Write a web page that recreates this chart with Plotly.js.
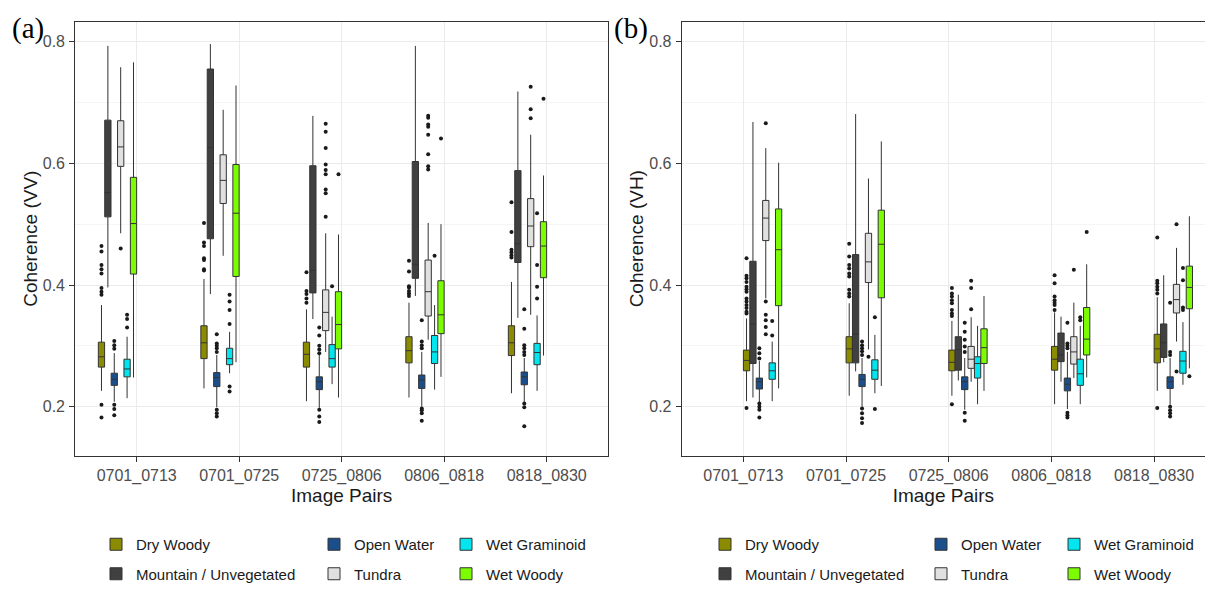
<!DOCTYPE html>
<html><head><meta charset="utf-8">
<script src="https://cdn.plot.ly/plotly-3.0.1.min.js"></script>
<style>html,body{margin:0;padding:0;background:#fff}#chart{width:1205px;height:590px}</style>
</head><body><div id="chart"></div>
<script>
const pairs = ['0701_0713','0701_0725','0725_0806','0806_0818','0818_0830'];
const classes = ['Dry Woody','Mountain / Unvegetated','Open Water','Tundra','Wet Graminoid','Wet Woody'];
const classColors = ['#8B8B00','#404040','#1A4F8B','#E0E0E0','#00E5EE','#7CFC00'];

// ---- Panel (a): Coherence (VV) ----
const vvQ1 = [
  [0.265,0.279,0.265,0.272,0.284],
  [0.512,0.476,0.387,0.411,0.437],
  [0.235,0.233,0.228,0.230,0.236],
  [0.595,0.534,0.325,0.349,0.463],
  [0.249,0.269,0.265,0.271,0.269],
  [0.418,0.414,0.295,0.320,0.412]];
const vvMed = [
  [0.282,0.305,0.286,0.292,0.305],
  [0.552,0.626,0.424,0.434,0.468],
  [0.245,0.248,0.241,0.244,0.249],
  [0.627,0.572,0.355,0.389,0.497],
  [0.262,0.279,0.279,0.290,0.289],
  [0.501,0.518,0.335,0.351,0.464]];
const vvQ3 = [
  [0.306,0.333,0.306,0.315,0.333],
  [0.671,0.755,0.596,0.603,0.588],
  [0.255,0.256,0.249,0.252,0.257],
  [0.670,0.614,0.392,0.441,0.542],
  [0.278,0.296,0.302,0.317,0.304],
  [0.577,0.598,0.389,0.407,0.504]];
const vvLo = [
  [0.226,0.230,0.209,0.215,0.222],
  [0.396,0.385,0.344,0.382,0.346],
  [0.208,0.199,0.198,0.200,0.208],
  [0.485,0.448,0.290,0.310,0.351],
  [0.214,0.255,0.237,0.228,0.226],
  [0.248,0.273,0.215,0.249,0.284]];
const vvHi = [
  [0.367,0.410,0.360,0.371,0.405],
  [0.793,0.796,0.678,0.793,0.718],
  [0.288,0.285,0.285,0.290,0.280],
  [0.758,0.688,0.485,0.502,0.647],
  [0.315,0.323,0.348,0.367,0.350],
  [0.766,0.728,0.483,0.500,0.580]];
const vvOut = [
  [[0.464,0.455,0.433,0.426,0.419,0.395,0.389,0.384,0.203,0.182],
   [0.502,0.470,0.464,0.444,0.441,0.426,0.424],
   [0.421,0.390,0.385,0.378,0.371],
   [0.440,0.422,0.398,0.396,0.390,0.386,0.382],
   [0.536,0.487,0.458,0.454,0.449,0.445]],
  [[],[],[],[],[]],
  [[0.295,0.301,0.308,0.203,0.196,0.186],
   [0.319,0.304,0.300,0.296,0.290,0.195,0.189,0.184],
   [0.330,0.317,0.300,0.294,0.288,0.195,0.184,0.175],
   [0.342,0.307,0.301,0.296,0.197,0.194,0.189,0.177],
   [0.360,0.328,0.301,0.296,0.290,0.285,0.205,0.199,0.168]],
  [[0.460],[],
   [0.665,0.652,0.625,0.598,0.589,0.582,0.557,0.551,0.512],
   [0.678,0.675,0.664,0.660,0.647,0.615,0.595,0.590],
   [0.726,0.689,0.674]],
  [[0.351,0.344,0.330],
   [0.384,0.373,0.359,0.336,0.233,0.225],
   [0.398],[0.448],
   [0.518,0.433,0.397,0.378]],
  [[],[],[0.582],[0.641],[0.706]]];

// ---- Panel (b): Coherence (VH) ----
const vhQ1 = [
  [0.259,0.272,0.259,0.260,0.272],
  [0.271,0.272,0.260,0.274,0.281],
  [0.229,0.233,0.228,0.226,0.230],
  [0.473,0.404,0.263,0.270,0.354],
  [0.245,0.245,0.247,0.235,0.255],
  [0.366,0.379,0.271,0.285,0.361]];
const vhMed = [
  [0.276,0.295,0.273,0.278,0.295],
  [0.336,0.319,0.294,0.285,0.305],
  [0.241,0.245,0.241,0.237,0.241],
  [0.510,0.438,0.278,0.290,0.376],
  [0.259,0.260,0.271,0.254,0.275],
  [0.458,0.467,0.297,0.311,0.396]];
const vhQ3 = [
  [0.293,0.315,0.293,0.299,0.319],
  [0.439,0.450,0.315,0.321,0.336],
  [0.247,0.253,0.249,0.247,0.249],
  [0.539,0.485,0.299,0.315,0.401],
  [0.272,0.277,0.282,0.278,0.291],
  [0.525,0.523,0.328,0.363,0.431]];
const vhLo = [
  [0.209,0.218,0.218,0.204,0.226],
  [0.215,0.258,0.243,0.241,0.273],
  [0.207,0.200,0.195,0.196,0.203],
  [0.378,0.294,0.241,0.247,0.307],
  [0.209,0.222,0.204,0.204,0.236],
  [0.230,0.234,0.226,0.248,0.263]];
const vhHi = [
  [0.345,0.370,0.341,0.355,0.380],
  [0.668,0.681,0.384,0.348,0.416],
  [0.275,0.280,0.280,0.290,0.280],
  [0.625,0.575,0.347,0.371,0.461],
  [0.307,0.318,0.333,0.333,0.339],
  [0.601,0.636,0.382,0.434,0.513]];
const vhOut = [
  [[0.444,0.415,0.411,0.405,0.397,0.393,0.389,0.378,0.373,0.367,0.362,0.356,0.353,0.198],
   [0.468,0.447,0.433,0.427,0.419,0.414,0.392,0.386,0.381],
   [0.395,0.386,0.381,0.375,0.370,0.359,0.353,0.349,0.204],
   [0.416,0.403,0.381,0.375,0.371,0.367,0.359],
   [0.478,0.407,0.403,0.397,0.392,0.386,0.198]],
  [[],[],[],[],[]],
  [[0.296,0.288,0.279,0.205,0.200,0.195,0.182],
   [0.307,0.301,0.296,0.291,0.285,0.197,0.189,0.181,0.173],
   [0.338,0.323,0.310,0.299,0.290,0.190,0.177],
   [0.338,0.304,0.300,0.296,0.190,0.186,0.182],
   [0.371,0.290,0.285,0.200,0.194,0.189,0.184]],
  [[0.666,0.373,0.351,0.342,0.331,0.319],
   [0.282],
   [0.407,0.395,0.360],
   [0.425],
   [0.500,0.258]],
  [[0.341,0.317],[0.347,0.196],[],[0.347,0.342],[0.428,0.408,0.363,0.359]],
  [[],[],[],[0.487],[0.250]]];

const panels = [
  {q1:vvQ1, med:vvMed, q3:vvQ3, lo:vvLo, hi:vvHi, out:vvOut, xa:'x', ya:'y', legends:['legend','legend2','legend3'], tag:'a'},
  {q1:vhQ1, med:vhMed, q3:vhQ3, lo:vhLo, hi:vhHi, out:vhOut, xa:'x2', ya:'y2', legends:['legend4','legend5','legend6'], tag:'b'}
];

const traces = [];
panels.forEach(p => {
  classes.forEach((c, i) => {
    // Plotly reads 2D sample arrays only if the first row is non-empty:
    // list the pairs that have outliers first (axis order is fixed by categoryarray).
    const idx = pairs.map((_, k) => k);
    idx.sort((a, b) => (p.out[i][b].length > 0) - (p.out[i][a].length > 0) || a - b);
    const hasOut = p.out[i].some(r => r.length > 0);
    const t = {
      type:'box', orientation:'v', name:c,
      x: idx.map(k => pairs[k]),
      q1: idx.map(k => p.q1[i][k]), median: idx.map(k => p.med[i][k]), q3: idx.map(k => p.q3[i][k]),
      lowerfence: idx.map(k => p.lo[i][k]), upperfence: idx.map(k => p.hi[i][k]),
      boxpoints: hasOut ? 'all' : false, jitter:0, pointpos:0,
      fillcolor:classColors[i],
      line:{color:'#333333', width:1},
      marker:{color:'#1a1a1a', size:4},
      whiskerwidth:0,
      xaxis:p.xa, yaxis:p.ya,
      legend:p.legends[Math.floor(i/2)],
      legendgroup:p.tag + i,
      hoverinfo:'skip'
    };
    if (hasOut) t.y = idx.map(k => p.out[i][k]);
    traces.push(t);
  });
});

const W = 1205, H = 590;
const font = 'Liberation Sans, Arial, sans-serif';
const yDom = [1-455.7/H, 1-21.7/H];
function xAxis(dom, rng, mirror){
  return {domain:dom, range:rng, type:'category', categoryorder:'array', categoryarray:pairs,
    showgrid:true, gridcolor:'#ebebeb', gridwidth:1,
    showline:true, linecolor:'#333333', linewidth:1, mirror:mirror,
    ticks:'outside', ticklen:5, tickcolor:'#333333', tickwidth:1, ticklabelstandoff:0,
    tickfont:{family:font, size:16, color:'#4d4d4d'},
    title:{text:'Image Pairs', font:{family:font, size:19, color:'#1a1a1a'}, standoff:2},
    zeroline:false, fixedrange:true};
}
function yAxis(anchor, label, mirror){
  return {domain:yDom, range:[0.1194,0.8328], anchor:anchor, type:'linear', tick0:0.2, dtick:0.2,
    showgrid:true, gridcolor:'#ebebeb', gridwidth:1,
    minor:{dtick:0.1, showgrid:true, gridcolor:'#f1f1f1', gridwidth:0.7},
    showline:true, linecolor:'#333333', linewidth:1, mirror:mirror,
    ticks:'outside', ticklen:5, tickcolor:'#333333', tickwidth:1, ticklabelstandoff:1,
    tickfont:{family:font, size:16, color:'#4d4d4d'},
    title:{text:label, font:{family:font, size:19, color:'#1a1a1a'}, standoff:0},
    zeroline:false, fixedrange:true};
}
function legendAt(px){
  return {x:px/W, xanchor:'left', y:0, yanchor:'bottom', orientation:'v',
    traceorder:'grouped', tracegroupgap:7, bgcolor:'rgba(0,0,0,0)', borderwidth:0,
    font:{family:font, size:15, color:'#1a1a1a'}};
}
const legTextA = [136, 354, 486];
const legTextB = [745, 961, 1094];
const legOffset = 40;

const layout = {
  width:W, height:H, margin:{l:0, r:0, t:0, b:0},
  paper_bgcolor:'#ffffff', plot_bgcolor:'#ffffff',
  boxmode:'group', boxgap:0.25, boxgroupgap:0.02,
  xaxis: xAxis([75.2/W, 608.2/W], [-0.6, 4.6], true),
  yaxis: yAxis('x', 'Coherence (VV)', true),
  xaxis2: Object.assign(xAxis([681.7/W, 1], [-0.6, 4.496], true), {anchor:'y2'}),
  yaxis2: yAxis('x2', 'Coherence (VH)', false),
  legend: legendAt(legTextA[0]-legOffset), legend2: legendAt(legTextA[1]-legOffset), legend3: legendAt(legTextA[2]-legOffset),
  legend4: legendAt(legTextB[0]-legOffset), legend5: legendAt(legTextB[1]-legOffset), legend6: legendAt(legTextB[2]-legOffset),
  showlegend:true,
  annotations:[
    {text:'(a)', xref:'paper', yref:'paper', x:27.6/W, y:1-28.5/H, xanchor:'center', yanchor:'middle', showarrow:false,
     font:{family:'Liberation Serif, Times New Roman, serif', size:29, color:'#000'}},
    {text:'(b)', xref:'paper', yref:'paper', x:631/W, y:1-28.5/H, xanchor:'center', yanchor:'middle', showarrow:false,
     font:{family:'Liberation Serif, Times New Roman, serif', size:29, color:'#000'}}
  ]
};
Plotly.newPlot('chart', traces, layout, {displayModeBar:false, staticPlot:true});
</script></body></html>
